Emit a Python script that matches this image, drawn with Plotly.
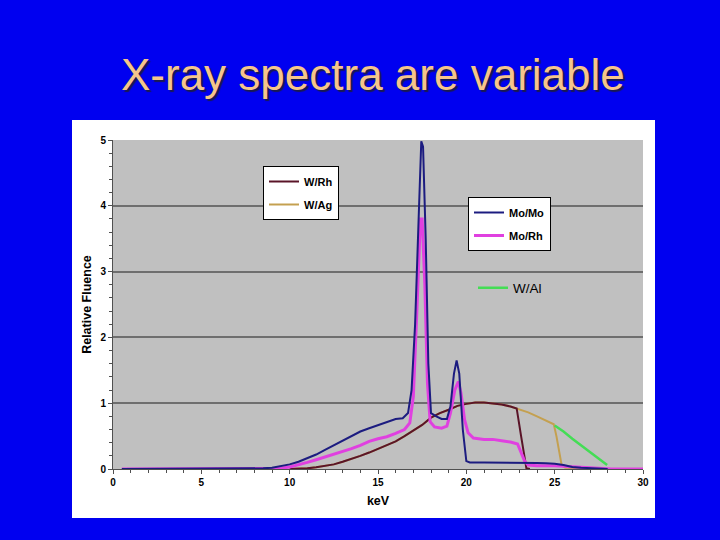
import plotly.graph_objects as go

# ---------------- data (keV, relative fluence) ----------------
mo_mo_kev = [0.5, 8.0, 8.5, 9, 9.5, 10, 10.5, 11, 11.5, 12, 12.5, 13, 13.5, 14, 14.5, 15, 15.5,
             16, 16.4, 16.7, 16.9, 17.1, 17.3, 17.45, 17.55, 17.7, 17.85, 18.0, 18.3, 18.6,
             18.9, 19.1, 19.3, 19.45, 19.6, 19.8, 20.0, 20.2, 21, 22, 23, 24, 24.5, 25,
             25.5, 26, 26.5, 27, 27.5, 28]
mo_mo_val = [0, 0, 0.01, 0.02, 0.04, 0.07, 0.11, 0.16, 0.22, 0.29, 0.36, 0.43, 0.5, 0.57, 0.62,
             0.67, 0.72, 0.76, 0.77, 0.85, 1.2, 2.2, 3.8, 4.98, 4.9, 3.5, 1.6, 0.85, 0.8, 0.76,
             0.76, 0.95, 1.45, 1.65, 1.45, 0.6, 0.12, 0.1, 0.1, 0.1, 0.1, 0.09, 0.087, 0.08,
             0.06, 0.03, 0.02, 0.01, 0.003, 0]

mo_rh_kev = [0.5, 9, 9.5, 10, 10.5, 11, 11.5, 12, 12.5, 13, 13.5, 14, 14.5, 15, 15.5, 16, 16.5,
             16.8, 17.0, 17.2, 17.4, 17.5, 17.65, 17.8, 17.95, 18.2, 18.6, 18.9, 19.1, 19.35,
             19.55, 19.7, 19.9, 20.1, 20.4, 21, 21.5, 22, 22.5, 22.9, 23.1, 23.3, 23.5, 24, 25,
             26, 26.5, 27, 27.5, 28.2, 30.2]
mo_rh_val = [0, 0, 0.01, 0.03, 0.06, 0.1, 0.14, 0.18, 0.22, 0.27, 0.31, 0.36, 0.42, 0.46, 0.49,
             0.54, 0.6, 0.7, 1.1, 2.4, 3.8, 3.8, 2.8, 1.3, 0.72, 0.64, 0.62, 0.65, 0.85, 1.2,
             1.33, 1.15, 0.75, 0.55, 0.47, 0.45, 0.45, 0.43, 0.41, 0.38, 0.25, 0.12, 0.06, 0.05,
             0.05, 0.04, 0.03, 0.02, 0.01, 0, 0]

w_rh_kev = [10, 10.5, 11, 11.5, 12, 12.5, 13, 13.5, 14, 14.5, 15, 15.5, 16, 16.5, 17, 17.5,
            18, 18.5, 19, 19.5, 20, 20.5, 21, 21.5, 22, 22.5, 22.85, 23.1, 23.4, 23.6]
w_rh_val = [0, 0.003, 0.01, 0.025, 0.045, 0.07, 0.11, 0.15, 0.2, 0.25, 0.31, 0.36, 0.42, 0.5,
            0.58, 0.67, 0.78, 0.85, 0.9, 0.96, 0.99, 1.01, 1.01, 1.0, 0.98, 0.95, 0.92, 0.5,
            0.01, 0]

w_ag_kev = [10, 10.5, 11, 11.5, 12, 12.5, 13, 13.5, 14, 14.5, 15, 15.5, 16, 16.5, 17, 17.5,
            18, 18.5, 19, 19.5, 20, 20.5, 21, 21.5, 22, 22.5, 23, 23.5, 24, 24.5, 24.95,
            25.1, 25.25, 25.4, 25.6, 26.5, 27.5]
w_ag_val = [0, 0.003, 0.01, 0.025, 0.045, 0.07, 0.11, 0.15, 0.2, 0.25, 0.31, 0.36, 0.42, 0.5,
            0.58, 0.67, 0.78, 0.85, 0.9, 0.96, 0.99, 1.01, 1.01, 1.0, 0.98, 0.95, 0.91, 0.86,
            0.8, 0.74, 0.68, 0.5, 0.25, 0.05, 0.02, 0.01, 0]

w_al_kev = [25.0, 25.5, 26, 26.5, 27, 27.5, 27.97]
w_al_val = [0.66, 0.57, 0.46, 0.36, 0.26, 0.15, 0.06]

x_ticks = [0, 5, 10, 15, 20, 25, 30]
y_ticks = [0, 1, 2, 3, 4, 5]

title_text = "X-ray spectra are variable"

# ---------------- figure ----------------
FONT = "Arial, Liberation Sans, sans-serif"
fig = go.Figure()

fig.add_trace(go.Scatter(x=w_ag_kev, y=w_ag_val, mode="lines", name="W/Ag", legendgroup="W/Ag",
                         line=dict(color="#c4a050", width=2), legend="legend", legendrank=2))
fig.add_trace(go.Scatter(x=w_rh_kev, y=w_rh_val, mode="lines", name="W/Rh", legendgroup="W/Rh",
                         line=dict(color="#5a1428", width=2), legend="legend", legendrank=1))
fig.add_trace(go.Scatter(x=w_al_kev, y=w_al_val, mode="lines", name="W/Al",
                         line=dict(color="#44dd55", width=2.5), legend="legend3"))
fig.add_trace(go.Scatter(x=mo_rh_kev, y=mo_rh_val, mode="lines", name="Mo/Rh", legendgroup="Mo/Rh",
                         line=dict(color="#e040e0", width=3), legend="legend2", legendrank=2))
fig.add_trace(go.Scatter(x=mo_mo_kev, y=mo_mo_val, mode="lines", name="Mo/Mo", legendgroup="Mo/Mo",
                         line=dict(color="#1c1c80", width=2), legend="legend2", legendrank=1))

L, R, T, B = 113, 77, 140, 71
PW, PH = 720 - L - R, 540 - T - B


def px(xp):
    return (xp - L) / PW


def py(yp):
    return (540 - B - yp) / PH


legend_common = dict(bgcolor="white", bordercolor="black", borderwidth=1,
                     font=dict(family=FONT, size=11, color="black", weight="bold"),
                     itemwidth=30, tracegroupgap=4, traceorder="grouped")

fig.update_layout(
    width=720, height=540,
    margin=dict(l=L, r=R, t=T, b=B),
    paper_bgcolor="#0000f0",
    plot_bgcolor="#c0c0c0",
    showlegend=True,
    legend=dict(x=px(263), y=py(166), xanchor="left", yanchor="top", **legend_common),
    legend2=dict(x=px(468), y=py(197), xanchor="left", yanchor="top", **legend_common),
    legend3=dict(x=px(473), y=py(288), xanchor="left", yanchor="middle",
                 bgcolor="rgba(0,0,0,0)", borderwidth=0, itemwidth=30,
                 font=dict(family=FONT, size=13.5, color="black")),
    shapes=[
        dict(type="rect", xref="paper", yref="paper", x0=px(72), x1=px(655), y0=py(518),
             y1=py(120), fillcolor="white", line=dict(width=0), layer="below"),
        dict(type="rect", xref="paper", yref="paper", x0=0, x1=1, y0=0, y1=1,
             fillcolor="#c0c0c0", line=dict(width=0), layer="below"),
    ],
    annotations=[
        dict(text=title_text, xref="paper", yref="paper", x=px(372.5), y=py(75),
             xanchor="center", yanchor="middle", showarrow=False,
             font=dict(family=FONT, size=44, color="#f5c58c",
                       shadow="2px 2px 1px #1a1a50")),
    ],
)

fig.update_xaxes(
    range=[0, 30], tickvals=x_ticks, ticktext=[str(v) for v in x_ticks],
    showgrid=False, zeroline=False, showline=True, linecolor="#505050", linewidth=1,
    ticks="outside", ticklen=4, tickcolor="#505050",
    minor=dict(dtick=1, ticks="outside", ticklen=3, tickcolor="#505050", showgrid=False),
    tickfont=dict(family=FONT, size=10, color="black", weight="bold"),
    title=dict(text="keV", font=dict(family=FONT, size=12.5, color="black", weight="bold"),
               standoff=9),
)
fig.update_yaxes(
    range=[0, 5], tickvals=y_ticks, ticktext=[str(v) for v in y_ticks],
    showgrid=True, gridcolor="#6e6e6e", gridwidth=1.5, zeroline=False,
    showline=True, linecolor="#505050", linewidth=1,
    ticks="outside", ticklen=4, tickcolor="#505050",
    minor=dict(dtick=0.2, ticks="outside", ticklen=3, tickcolor="#505050", showgrid=False),
    tickfont=dict(family=FONT, size=10, color="black", weight="bold"),
    title=dict(text="Relative Fluence", font=dict(family=FONT, size=12.5, color="black",
                                                  weight="bold"), standoff=6),
)

fig.write_html("out.html", config={"displayModeBar": False},
               post_script="document.body.style.margin='0';")
